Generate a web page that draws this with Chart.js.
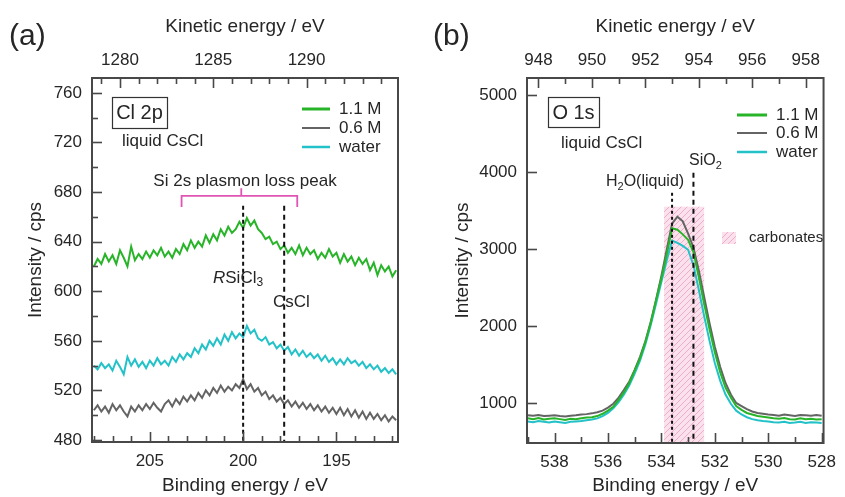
<!DOCTYPE html>
<html lang="en">
<head>
<meta charset="UTF-8">
<title>Cl 2p and O 1s spectra of liquid CsCl</title>
<script src="https://cdn.jsdelivr.net/npm/chart.js@4.4.1/dist/chart.umd.min.js"></script>
<style>
  body { margin: 0; background: #ffffff; }
  .wrap { position: relative; width: 845px; height: 497px; }
  canvas { position: absolute; top: 0; }
  #chartA { left: 0; }
  #chartB { left: 420px; }
</style>
</head>
<body>
<div class="wrap">
  <canvas id="chartA" width="420" height="497"></canvas>
  <canvas id="chartB" width="425" height="497"></canvas>
</div>
<script>
// Kinetic energy = PHOTON - binding energy (top axes)
const PHOTON = 1486.6;

// ---- (a) Cl 2p region ----
const beA = [
  208.0, 207.8, 207.6, 207.4, 207.2, 207.0, 206.8, 206.6, 206.4, 206.2,
  206.0, 205.8, 205.6, 205.4, 205.2, 205.0, 204.8, 204.6, 204.4, 204.2,
  204.0, 203.8, 203.6, 203.4, 203.2, 203.0, 202.8, 202.6, 202.4, 202.2,
  202.0, 201.8, 201.6, 201.4, 201.2, 201.0, 200.8, 200.6, 200.4, 200.2,
  200.0, 199.8, 199.6, 199.4, 199.2, 199.0, 198.8, 198.6, 198.4, 198.2,
  198.0, 197.8, 197.6, 197.4, 197.2, 197.0, 196.8, 196.6, 196.4, 196.2,
  196.0, 195.8, 195.6, 195.4, 195.2, 195.0, 194.8, 194.6, 194.4, 194.2,
  194.0, 193.8, 193.6, 193.4, 193.2, 193.0, 192.8, 192.6, 192.4, 192.2,
  192.0, 191.8
];
const cl11M = [
  620, 626, 622, 630, 624, 629, 622, 633, 627, 620,
  636, 625, 630, 626, 632, 627, 633, 629, 635, 628,
  632, 627, 634, 630, 638, 633, 641, 635, 640, 636,
  645, 639, 646, 641, 650, 645, 652, 647, 650, 656,
  651, 659, 653, 657, 650, 647, 642, 644, 638, 640,
  634, 637, 631, 635, 630, 637, 629, 635, 630, 633,
  626, 631, 627, 634, 628, 631, 623, 630, 624, 628,
  621, 627, 622, 626, 617, 623, 613, 621, 616, 620,
  612, 617
];
const cl06M = [
  504, 508, 503, 507, 502, 509, 504, 508, 503, 499,
  507, 503, 508, 504, 509, 505, 510, 506, 503, 509,
  512, 507, 513, 509, 515, 511, 516, 512, 518, 514,
  520, 516, 522, 518, 524, 519, 523, 520, 525, 522,
  529, 521, 525, 519, 522, 516, 519, 513, 516, 511,
  514, 509, 512, 507, 511, 506, 510, 505, 509, 504,
  508, 503, 507, 502, 506, 501, 506, 500, 505, 499,
  504, 498, 503, 497, 502, 497, 501, 496, 500, 495,
  499, 496
];
const clWater = [
  540, 537, 542, 538, 541, 536, 544, 539, 533, 547,
  540, 545, 539, 543, 538, 544, 540, 546, 541, 544,
  540, 547, 543, 549, 545, 550, 547, 554, 550, 557,
  553, 560, 556, 562, 557, 565, 560, 567, 562, 566,
  563, 572, 566, 569, 562, 560, 563, 557, 559, 554,
  557, 552, 555, 549, 553, 548, 552, 547, 550, 546,
  549, 544, 548, 543, 546, 541, 545, 541, 546, 542,
  544, 540, 543, 538, 541, 537, 540, 535, 538, 534,
  537, 533
];
const beTicksA = [205, 200, 195];
const beMinorA = [208, 207, 206, 204, 203, 202, 201, 199, 198, 197, 196, 194, 193, 192];
const keTicksA = [1280, 1285, 1290];
const keMinorA = [1279, 1281, 1282, 1283, 1284, 1286, 1287, 1288, 1289, 1291, 1292, 1293, 1294];
const intTicksA = [480, 520, 560, 600, 640, 680, 720, 760];
const intMinorA = [500, 540, 580, 620, 660, 700, 740];

// ---- (b) O 1s region ----
const beB = [
  539.0, 538.8, 538.6, 538.4, 538.2, 538.0, 537.8, 537.6, 537.4, 537.2,
  537.0, 536.8, 536.6, 536.4, 536.2, 536.0, 535.8, 535.6, 535.4, 535.2,
  535.0, 534.8, 534.6, 534.4, 534.2, 534.0, 533.8, 533.6, 533.4, 533.2,
  533.0, 532.8, 532.6, 532.4, 532.2, 532.0, 531.8, 531.6, 531.4, 531.2,
  531.0, 530.8, 530.6, 530.4, 530.2, 530.0, 529.8, 529.6, 529.4, 529.2,
  529.0, 528.8, 528.6, 528.4, 528.2, 528.0
];
const o11M = [
  800, 790, 805, 785, 795, 800, 790, 780, 795, 790,
  800, 810, 815, 830, 860, 900, 950, 1040, 1140, 1260,
  1420, 1580, 1790, 2040, 2330, 2620, 2930, 3270, 3250, 3190,
  3120, 2960, 2640, 2290, 1960, 1660, 1400, 1200, 1070, 960,
  910, 870, 850, 830, 820, 810, 800, 795, 805, 790,
  785, 800, 790, 795, 785, 790
];
const o06M = [
  840, 835, 845, 830, 835, 840, 830, 825, 835, 840,
  850, 855, 865, 880, 900, 940, 990, 1070, 1170, 1280,
  1430, 1600, 1800, 2050, 2340, 2650, 2990, 3330, 3420, 3360,
  3200, 3020, 2720, 2380, 2040, 1730, 1470, 1260, 1110, 1000,
  960, 920, 890, 870, 860, 850, 845, 835, 850, 840,
  830, 845, 840, 835, 845, 835
];
const oWater = [
  760, 750, 765, 755, 745, 760, 750, 740, 755, 760,
  765, 775, 785, 800, 830, 870, 930, 1010, 1110, 1230,
  1380, 1550, 1760, 2010, 2290, 2570, 2850, 3110, 3080, 3040,
  2990, 2790, 2470, 2130, 1810, 1520, 1290, 1110, 990, 900,
  850, 815, 790, 775, 765, 760, 750, 745, 755, 740,
  745, 755, 740, 750, 745, 740
];
const beTicksB = [538, 536, 534, 532, 530, 528];
const beMinorB = [539, 537, 535, 533, 531, 529];
const keTicksB = [948, 950, 952, 954, 956, 958];
const keMinorB = [949, 951, 953, 955, 957];
const intTicksB = [1000, 2000, 3000, 4000, 5000];

// ---- styling ----
const FONT = '"Liberation Sans", Arial, Helvetica, sans-serif';
const TEXT = '#262626';
const AXIS = '#484848';
const GREEN = '#28b428';
const GREY = '#646464';
const CYAN = '#22c2c8';
const MAGENTA = '#e055b4';

function fixedTicks(values) {
  return scale => { scale.ticks = values.map(v => ({ value: v })); };
}
const plain = v => String(v);

function xAxis(position, min, max, reverse, ticks, title, tickPad, height, titlePad) {
  return {
    type: 'linear', position, min, max, reverse,
    grid: { display: false, drawTicks: false },
    border: { display: false },
    afterBuildTicks: fixedTicks(ticks),
    afterFit: s => { s.height = height; },
    ticks: { callback: plain, padding: tickPad, maxRotation: 0, autoSkip: false,
             color: TEXT, font: { family: FONT, size: 17 } },
    title: { display: true, text: title, color: TEXT,
             font: { family: FONT, size: 19 }, padding: titlePad }
  };
}
function yAxis(min, max, ticks, width, titleTop) {
  return {
    type: 'linear', position: 'left', min, max,
    grid: { display: false, drawTicks: false },
    border: { display: false },
    afterBuildTicks: fixedTicks(ticks),
    afterFit: s => { s.width = width; },
    ticks: { callback: plain, padding: 10, autoSkip: false,
             color: TEXT, font: { family: FONT, size: 17 } },
    title: { display: true, text: 'Intensity / cps', color: TEXT,
             font: { family: FONT, size: 19 }, padding: { top: titleTop, bottom: 0 } }
  };
}
function series(label, xs, ys, color, width) {
  return {
    label, data: xs.map((x, i) => ({ x, y: ys[i] })),
    borderColor: color, borderWidth: width, pointRadius: 0, tension: 0, fill: false
  };
}

// frame plus inward tick marks
function frameAndTicks(chart, marks) {
  const { ctx, chartArea: a } = chart;
  ctx.save();
  ctx.strokeStyle = AXIS;
  ctx.lineWidth = 1.6;
  marks.forEach(m => {
    const s = chart.scales[m.id];
    [[m.major, 10], [m.minor || [], 6]].forEach(([vals, len]) => {
      vals.forEach(v => {
        const p = Math.round(s.getPixelForValue(v)) + 0.5;
        ctx.beginPath();
        if (s.position === 'bottom') { ctx.moveTo(p, a.bottom); ctx.lineTo(p, a.bottom - len); }
        else if (s.position === 'top') { ctx.moveTo(p, a.top); ctx.lineTo(p, a.top + len); }
        else { ctx.moveTo(a.left, p); ctx.lineTo(a.left + len, p); }
        ctx.stroke();
      });
    });
  });
  ctx.lineWidth = 2;
  ctx.strokeRect(a.left, a.top, a.right - a.left, a.bottom - a.top);
  ctx.restore();
}

function dashedLine(chart, be, top, dash) {
  const { ctx, chartArea: a } = chart;
  const x = chart.scales.x.getPixelForValue(be);
  ctx.save();
  ctx.strokeStyle = '#111';
  ctx.lineWidth = 2;
  ctx.setLineDash(dash);
  ctx.beginPath();
  ctx.moveTo(x, chart.scales.y.getPixelForValue(top));
  ctx.lineTo(x, a.bottom);
  ctx.stroke();
  ctx.restore();
}

// text with italic / subscript pieces, left aligned, vertically centred at y
function richText(ctx, parts, x, y, size) {
  ctx.save();
  ctx.fillStyle = TEXT;
  ctx.textBaseline = 'middle';
  ctx.textAlign = 'left';
  parts.forEach(p => {
    const s = p.sub ? Math.round(size * 0.7) : size;
    ctx.font = (p.italic ? 'italic ' : '') + s + 'px ' + FONT;
    ctx.fillText(p.t, x, y + (p.sub ? size * 0.3 : 0));
    x += ctx.measureText(p.t).width;
  });
  ctx.restore();
}
function text(ctx, str, x, y, size, align) {
  ctx.save();
  ctx.fillStyle = TEXT;
  ctx.font = size + 'px ' + FONT;
  ctx.textAlign = align || 'left';
  ctx.textBaseline = 'middle';
  ctx.fillText(str, x, y);
  ctx.restore();
}
function boxedLabel(ctx, str, x0, y0, x1, y1) {
  ctx.save();
  ctx.strokeStyle = '#333';
  ctx.lineWidth = 1.2;
  ctx.strokeRect(x0 + 0.5, y0 + 0.5, x1 - x0, y1 - y0);
  ctx.restore();
  text(ctx, str, (x0 + x1) / 2, (y0 + y1) / 2 + 1, 20, 'center');
}
function legend(ctx, x0, x1, ys) {
  const items = [['1.1 M', GREEN, 3], ['0.6 M', GREY, 2], ['water', CYAN, 2.5]];
  items.forEach(([lab, col, w], i) => {
    ctx.save();
    ctx.strokeStyle = col;
    ctx.lineWidth = w;
    ctx.beginPath();
    ctx.moveTo(x0, ys[i]);
    ctx.lineTo(x1, ys[i]);
    ctx.stroke();
    ctx.restore();
    text(ctx, lab, x1 + 9, ys[i], 17);
  });
}
function panelLetter(ctx, str, x) {
  text(ctx, str, x, 37, 30);
}

// ---- (a) annotations ----
const peakLinesA = [200.0, 197.8];
const peakLineTopA = 669;
const bracketA = { from: 203.3, to: 197.1, level: 677, foot: 668, mid: 200.1, midTop: 683 };

const decorA = {
  id: 'decorA',
  afterDatasetsDraw(chart) {
    const { ctx } = chart;
    const x = chart.scales.x, y = chart.scales.y;
    dashedLine(chart, peakLinesA[0], peakLineTopA, [4, 3]);
    dashedLine(chart, peakLinesA[1], peakLineTopA, [5, 4]);

    ctx.save();
    ctx.strokeStyle = MAGENTA;
    ctx.lineWidth = 1.8;
    ctx.beginPath();
    ctx.moveTo(x.getPixelForValue(bracketA.from), y.getPixelForValue(bracketA.foot));
    ctx.lineTo(x.getPixelForValue(bracketA.from), y.getPixelForValue(bracketA.level));
    ctx.lineTo(x.getPixelForValue(bracketA.to), y.getPixelForValue(bracketA.level));
    ctx.lineTo(x.getPixelForValue(bracketA.to), y.getPixelForValue(bracketA.foot));
    ctx.moveTo(x.getPixelForValue(bracketA.mid), y.getPixelForValue(bracketA.level));
    ctx.lineTo(x.getPixelForValue(bracketA.mid), y.getPixelForValue(bracketA.midTop));
    ctx.stroke();
    ctx.restore();

    frameAndTicks(chart, [
      { id: 'x', major: beTicksA, minor: beMinorA },
      { id: 'xTop', major: keTicksA, minor: keMinorA },
      { id: 'y', major: intTicksA, minor: intMinorA }
    ]);

    panelLetter(ctx, '(a)', 9);
    boxedLabel(ctx, 'Cl 2p', 112, 97, 167, 128);
    text(ctx, 'liquid CsCl', 122, 141, 17);
    legend(ctx, 302, 330, [109, 128, 147]);
    text(ctx, 'Si 2s plasmon loss peak', 245, 181, 17, 'center');
    richText(ctx, [{ t: 'R', italic: true }, { t: 'SiCl' }, { t: '3', sub: true }], 213, 278, 17);
    text(ctx, 'CsCl', 273, 302, 17);
  }
};

// ---- (b) annotations ----
const carbonateBand = { from: 533.9, to: 532.4, top: 3550 };
const peakLinesB = [{ be: 533.6, top: 3730 }, { be: 532.8, top: 3990 }];

function hatch(ctx) {
  const c = document.createElement('canvas');
  c.width = 6; c.height = 6;
  const g = c.getContext('2d');
  g.fillStyle = 'rgba(250, 222, 234, 0.9)';
  g.fillRect(0, 0, 6, 6);
  g.strokeStyle = 'rgba(236, 168, 200, 0.9)';
  g.lineWidth = 1;
  g.beginPath();
  g.moveTo(0, 6); g.lineTo(6, 0);
  g.moveTo(-1, 1); g.lineTo(1, -1);
  g.moveTo(5, 7); g.lineTo(7, 5);
  g.stroke();
  return ctx.createPattern(c, 'repeat');
}

const decorB = {
  id: 'decorB',
  beforeDatasetsDraw(chart) {
    const { ctx, chartArea: a } = chart;
    const x = chart.scales.x, y = chart.scales.y;
    const x0 = x.getPixelForValue(carbonateBand.from);
    const x1 = x.getPixelForValue(carbonateBand.to);
    const yt = y.getPixelForValue(carbonateBand.top);
    ctx.save();
    ctx.fillStyle = hatch(ctx);
    ctx.fillRect(x0, yt, x1 - x0, a.bottom - yt);
    ctx.restore();
  },
  afterDatasetsDraw(chart) {
    const { ctx } = chart;
    dashedLine(chart, peakLinesB[0].be, peakLinesB[0].top, [3, 3]);
    dashedLine(chart, peakLinesB[1].be, peakLinesB[1].top, [5, 4]);

    frameAndTicks(chart, [
      { id: 'x', major: beTicksB, minor: beMinorB },
      { id: 'xTop', major: keTicksB, minor: keMinorB },
      { id: 'y', major: intTicksB }
    ]);

    const ox = -420; // panel (b) canvas starts at x = 420 of the figure
    panelLetter(ctx, '(b)', 433 + ox);
    boxedLabel(ctx, 'O 1s', 548 + ox, 97, 599 + ox, 127);
    text(ctx, 'liquid CsCl', 561 + ox, 143, 17);
    legend(ctx, 737 + ox, 767 + ox, [115, 133, 152]);
    ctx.save();
    ctx.fillStyle = hatch(ctx);
    ctx.fillRect(722 + ox, 232, 14, 12);
    ctx.restore();
    text(ctx, 'carbonates', 749 + ox, 238, 15);
    richText(ctx, [{ t: 'H' }, { t: '2', sub: true }, { t: 'O(liquid)' }], 606 + ox, 182, 16);
    richText(ctx, [{ t: 'SiO' }, { t: '2', sub: true }], 689 + ox, 161, 16);
  }
};

const common = {
  responsive: false,
  animation: false,
  events: [],
  plugins: { legend: { display: false }, tooltip: { enabled: false } }
};

// Range of binding energy shown in each panel
const beRangeA = [191.7, 208.1];
const beRangeB = [527.93, 539.03];

new Chart(document.getElementById('chartA'), {
  type: 'line',
  data: {
    datasets: [
      series('1.1 M', beA, cl11M, GREEN, 2),
      series('water', beA, clWater, CYAN, 2),
      series('0.6 M', beA, cl06M, GREY, 2)
    ]
  },
  options: {
    ...common,
    layout: { padding: { left: 0, right: 22, top: 0, bottom: 0 } },
    scales: {
      x: xAxis('bottom', beRangeA[0], beRangeA[1], true, beTicksA, 'Binding energy / eV', 9, 55, { top: 0, bottom: 0 }),
      xTop: xAxis('top', PHOTON - beRangeA[1], PHOTON - beRangeA[0], false, keTicksA, 'Kinetic energy / eV', 7, 78, { top: 15, bottom: 0 }),
      y: yAxis(478.4, 772, intTicksA, 92, 24)
    }
  },
  plugins: [decorA]
});

new Chart(document.getElementById('chartB'), {
  type: 'line',
  data: {
    datasets: [
      series('1.1 M', beB, o11M, GREEN, 2),
      series('water', beB, oWater, CYAN, 2),
      series('0.6 M', beB, o06M, GREY, 2)
    ]
  },
  options: {
    ...common,
    layout: { padding: { left: 0, right: 15, top: 0, bottom: 0 } },
    scales: {
      x: xAxis('bottom', beRangeB[0], beRangeB[1], true, beTicksB, 'Binding energy / eV', 9, 54, { top: 0, bottom: 0 }),
      xTop: xAxis('top', PHOTON - beRangeB[1], PHOTON - beRangeB[0], false, keTicksB, 'Kinetic energy / eV', 7, 78, { top: 15, bottom: 0 }),
      y: yAxis(480, 5221, intTicksB, 107, 31)
    }
  },
  plugins: [decorB]
});
</script>
</body>
</html>
